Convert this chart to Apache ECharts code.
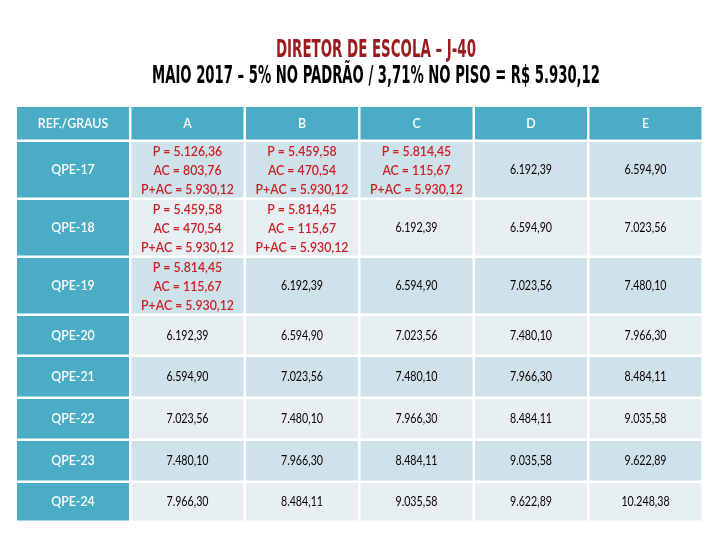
<!DOCTYPE html>
<html>
<head>
<meta charset="utf-8">
<script src="https://cdn.jsdelivr.net/npm/echarts@6/dist/echarts.min.js"></script>
<style>
html,body{margin:0;padding:0;background:#fff;}
#chart{width:720px;height:540px;}
</style>
</head>
<body>
<div id="chart"></div>
<script>
// ---- data ----
const titleLine1 = 'DIRETOR DE ESCOLA – J-40';
const titleLine2 = 'MAIO 2017 – 5% NO PADRÃO / 3,71% NO PISO = R$ 5.930,12';
const cornerLabel = 'REF./GRAUS';
const grades = ['A', 'B', 'C', 'D', 'E'];
const refs = ['QPE-17', 'QPE-18', 'QPE-19', 'QPE-20', 'QPE-21', 'QPE-22', 'QPE-23', 'QPE-24'];
const qpe17 = [5126.36, 5459.58, 5814.45, 6192.39, 6594.90];
const qpe18 = [5459.58, 5814.45, 6192.39, 6594.90, 7023.56];
const qpe19 = [5814.45, 6192.39, 6594.90, 7023.56, 7480.10];
const qpe20 = [6192.39, 6594.90, 7023.56, 7480.10, 7966.30];
const qpe21 = [6594.90, 7023.56, 7480.10, 7966.30, 8484.11];
const qpe22 = [7023.56, 7480.10, 7966.30, 8484.11, 9035.58];
const qpe23 = [7480.10, 7966.30, 8484.11, 9035.58, 9622.89];
const qpe24 = [7966.30, 8484.11, 9035.58, 9622.89, 10248.38];
const piso = 5930.12;
const pisoBase = [5126.36, 5459.58, 5814.45];
const pisoAC = [803.76, 470.54, 115.67];

// ---- layout (not data) ----
const rowUnits = [35, 58, 58, 58, 41, 42, 42, 42, 40];
const cum = [0];
rowUnits.forEach(h => cum.push(cum[cum.length - 1] + h));
const gap = 2.5;

function fmt(v) {
  const parts = v.toFixed(2).split('.');
  return parts[0].replace(/\B(?=(\d{3})+(?!\d))/g, '.') + ',' + parts[1];
}

const tableRows = [qpe17, qpe18, qpe19, qpe20, qpe21, qpe22, qpe23, qpe24];
const cells = [];
cells.push({ value: [0, 0], text: cornerLabel, kind: 'head' });
grades.forEach((g, i) => cells.push({ value: [i + 1, 0], text: g, kind: 'head' }));
refs.forEach((r, ri) => {
  cells.push({ value: [0, ri + 1], text: r, kind: 'rowhead' });
  tableRows[ri].forEach((v, ci) => {
    if (v < piso) {
      const k = pisoBase.indexOf(v);
      cells.push({ value: [ci + 1, ri + 1], kind: 'red',
        text: 'P = ' + fmt(v) + '\nAC = ' + fmt(pisoAC[k]) + '\nP+AC = ' + fmt(piso) });
    } else {
      cells.push({ value: [ci + 1, ri + 1], kind: 'num', text: fmt(v) });
    }
  });
});

const teal = '#4BACC6';
const bandDark = '#D0E2E9';
const bandLight = '#E8EFF2';

function renderItem(params, api) {
  const cell = cells[params.dataIndex];
  const c = api.value(0), r = api.value(1);
  const p0 = api.coord([c, cum[r]]);
  const p1 = api.coord([c + 1, cum[r + 1]]);
  const w = p1[0] - p0[0] - gap;
  const h = p1[1] - p0[1] - gap;
  let fill;
  if (cell.kind === 'head' || cell.kind === 'rowhead') fill = teal;
  else fill = (r % 2 === 1) ? bandDark : bandLight;
  let color = '#000', font = 'normal 13px Lato', sx = 0.82, lh = 19;
  if (cell.kind === 'head' || cell.kind === 'rowhead') { color = '#fff'; font = '600 13px Lato'; sx = 0.95; }
  if (cell.kind === 'red') { color = '#C81E24'; font = '600 14px Lato'; sx = 0.88; }
  return {
    type: 'group',
    children: [
      { type: 'rect', shape: { x: p0[0], y: p0[1], width: w, height: h }, style: { fill: fill } },
      { type: 'text', x: p0[0] + w / 2, y: p0[1] + h / 2 + 0.5, scaleX: sx,
        style: { text: cell.text, fill: color, font: font, align: 'center', verticalAlign: 'middle', lineHeight: lh } }
    ]
  };
}

function fitScale(text, font, target) {
  const ctx = document.createElement('canvas').getContext('2d');
  ctx.font = font;
  return target / ctx.measureText(text).width;
}
const tFont = 'bold 25px "DejaVu Sans Condensed", "DejaVu Sans", sans-serif';

const chart = echarts.init(document.getElementById('chart'), null, { renderer: 'canvas' });
chart.setOption({
  backgroundColor: '#fff',
  animation: false,
  grid: { left: 17, top: 107, width: 687, height: cum[cum.length - 1] },
  xAxis: { type: 'value', min: 0, max: 6, show: false },
  yAxis: { type: 'value', min: 0, max: cum[cum.length - 1], inverse: true, show: false },
  graphic: [
    { type: 'text', x: 376, y: 50, scaleX: fitScale(titleLine1, tFont, 200),
      style: { text: titleLine1, font: tFont, fill: '#9A1A1E', align: 'center', verticalAlign: 'middle' } },
    { type: 'text', x: 376, y: 76, scaleX: fitScale(titleLine2, tFont, 448),
      style: { text: titleLine2, font: tFont, fill: '#000', align: 'center', verticalAlign: 'middle' } }
  ],
  series: [{
    type: 'custom',
    renderItem: renderItem,
    data: cells.map(c => c.value),
    clip: false
  }]
});
</script>
</body>
</html>
